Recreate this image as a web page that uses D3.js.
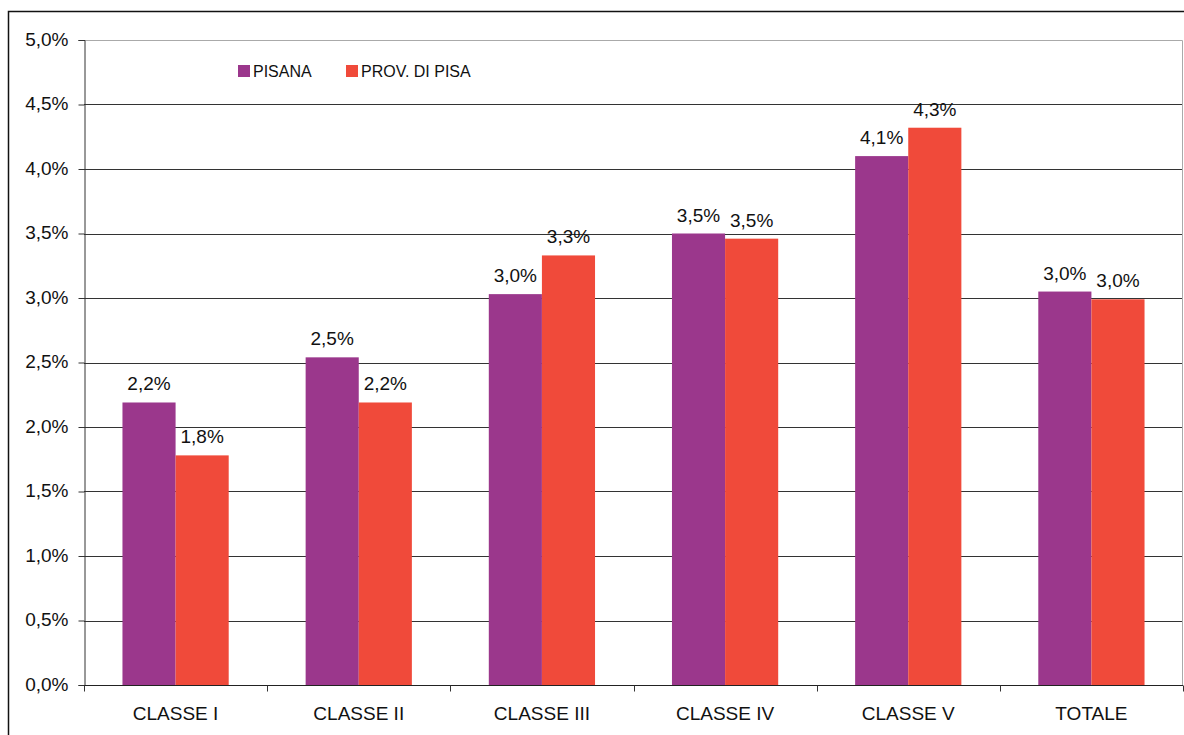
<!DOCTYPE html>
<html><head><meta charset="utf-8">
<script src="https://cdn.jsdelivr.net/npm/d3@7/dist/d3.min.js"></script>
<style>body{margin:0;background:#fff;}svg{display:block;font-family:"Liberation Sans",Arial,sans-serif;}</style>
</head><body>
<svg id="c" width="1184" height="735"></svg>
<script>
const categories = ["CLASSE I","CLASSE II","CLASSE III","CLASSE IV","CLASSE V","TOTALE"];
const seriesNames = ["PISANA","PROV. DI PISA"];
const pisana = [2.19, 2.54, 3.03, 3.50, 4.10, 3.05];
const provPisa = [1.78, 2.19, 3.33, 3.46, 4.32, 2.99];
const yTicks = [0,0.5,1,1.5,2,2.5,3,3.5,4,4.5,5];
const colors = ["#9b378c","#f04a3a"];

const svg = d3.select("#c");
const L=84, R=1183, T=40, B=685;
const x = d3.scaleBand().domain(categories).range([L,R]).paddingInner(0.42).paddingOuter(0.21);
const xs = d3.scaleBand().domain(seriesNames).range([0,x.bandwidth()]);
const y = d3.scaleLinear().domain([0,5]).range([B,T]);
const fmt = v => v.toFixed(1).replace(".",",")+"%";

// outer frame
svg.append("path").attr("d",`M8.5,735 V11.5 H1184`).attr("fill","none").attr("stroke","#111").attr("stroke-width",1.5);

// gridlines
svg.append("g").selectAll("line").data(yTicks.filter(t=>t>0 && t<5)).join("line")
  .attr("x1",L).attr("x2",R).attr("y1",d=>Math.round(y(d))+0.5).attr("y2",d=>Math.round(y(d))+0.5)
  .attr("stroke","#333").attr("stroke-width",1);
// plot border top/right
svg.append("path").attr("d",`M${L},${y(5)+0.5} H${R-0.5} V${B}`).attr("fill","none").attr("stroke","#aaa").attr("stroke-width",1);

// bars
const data = categories.map((c,i)=>({c, v:[pisana[i],provPisa[i]]}));
const g = svg.append("g").selectAll("g").data(data).join("g").attr("transform",d=>`translate(${x(d.c)},0)`);
g.selectAll("rect").data(d=>d.v.map((v,j)=>({v,s:seriesNames[j],j}))).join("rect")
  .attr("x",d=>xs(d.s)).attr("width",xs.bandwidth()).attr("y",d=>y(d.v)).attr("height",d=>B-y(d.v))
  .attr("fill",d=>colors[d.j]);
g.selectAll("text").data(d=>d.v.map((v,j)=>({v,s:seriesNames[j],j}))).join("text")
  .attr("x",d=>xs(d.s)+xs.bandwidth()/2).attr("y",d=>y(d.v)-12)
  .attr("text-anchor","middle").attr("font-size",19).attr("fill","#111").text(d=>fmt(d.v));

// y axis
const ya = svg.append("g").attr("transform",`translate(${L+0.5},0)`)
  .call(d3.axisLeft(y).tickValues(yTicks).tickFormat(fmt).tickSize(6).tickPadding(10));
ya.select(".domain").attr("stroke","#333");
ya.selectAll("line").attr("stroke","#333");
ya.selectAll("text").attr("font-size",19).attr("fill","#111").attr("font-family","Liberation Sans, Arial, sans-serif").attr("dy","0.28em");

// x axis
const xa = svg.append("g").attr("transform",`translate(0,${B+0.5})`)
  .call(d3.axisBottom(x).tickSize(0).tickPadding(21));
xa.select(".domain").attr("stroke","#222").attr("d",`M${L},0H${R}`);
xa.selectAll("text").attr("font-size",19).attr("fill","#111").attr("font-family","Liberation Sans, Arial, sans-serif");
// category boundary ticks
const bounds = categories.map(c=>x(c)-x.step()*x.paddingInner()/2).concat([R-0.5]);
xa.append("g").selectAll("line").data(bounds).join("line")
  .attr("x1",d=>Math.round(d)+0.5).attr("x2",d=>Math.round(d)+0.5).attr("y1",0).attr("y2",6).attr("stroke","#333");

// legend
const lg = svg.append("g").attr("transform","translate(238,65)");
const lx = [0,108];
seriesNames.forEach((s,i)=>{
  lg.append("rect").attr("x",lx[i]).attr("y",0).attr("width",12).attr("height",12).attr("fill",colors[i]);
  lg.append("text").attr("x",lx[i]+15).attr("y",11.5).attr("font-size",16).attr("fill","#111").text(s);
});
</script>
</body></html>
